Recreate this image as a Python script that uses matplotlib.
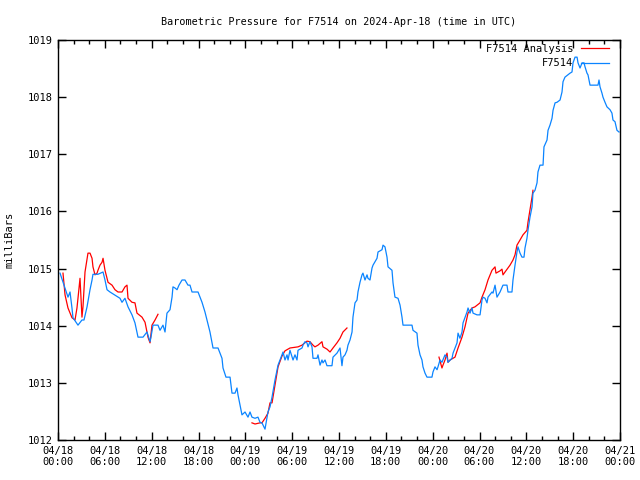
import datetime as dt

import numpy as np
import matplotlib
matplotlib.use("Agg")
import matplotlib.pyplot as plt
from matplotlib.ticker import MultipleLocator, FormatStrFormatter

# station observations: hours after 2024-04-18 00:00 UTC, pressure (mb)
obs_hours = [
    0.26, 0.90, 1.28, 1.54, 1.79, 1.92, 2.56, 3.07, 3.33, 3.72, 4.10, 4.36, 4.48, 5.12,
    5.77, 6.02, 6.28, 6.66, 7.94, 8.20, 8.58, 8.97, 9.48, 9.86, 10.25, 10.89, 11.40,
    11.79, 11.91, 12.17, 12.81, 13.07, 13.45, 13.71, 13.96, 14.35, 14.61, 14.73, 14.99,
    15.25, 15.50, 15.89, 16.27, 16.65, 16.91, 17.17, 17.94, 18.45, 18.83, 19.09, 19.47,
    19.86, 20.50, 21.01, 21.14, 21.52, 22.04, 22.29, 22.68, 22.93, 23.06, 23.32, 23.57,
    23.96, 24.34, 24.60, 24.85, 25.24, 25.62, 25.88, 26.13, 26.52, 26.78, 26.90, 27.16,
    27.42, 27.80, 28.19, 28.70, 28.83, 29.08, 29.34, 29.47, 29.72, 30.11, 30.36, 30.62,
    30.75, 31.26, 31.39, 31.64, 31.90, 32.03, 32.28, 32.54, 32.67, 33.18, 33.31, 33.57,
    33.82, 33.95, 34.21, 34.46, 35.10, 35.23, 35.74, 36.13, 36.38, 36.51, 36.77, 37.02,
    37.15, 37.41, 37.67, 37.79, 38.05, 38.31, 38.43, 38.69, 38.95, 39.07, 39.33, 39.59,
    39.71, 39.97, 40.23, 40.36, 40.61, 40.87, 41.00, 41.51, 41.64, 41.89, 42.15, 42.28,
    42.79, 42.92, 43.17, 43.56, 43.82, 44.07, 44.20, 45.35, 45.48, 45.99, 46.12, 46.38,
    46.63, 46.76, 47.02, 47.27, 47.91, 48.04, 48.30, 48.56, 48.68, 48.94, 49.19, 49.58,
    49.84, 49.96, 50.48, 50.61, 51.12, 51.25, 51.50, 51.76, 51.89, 52.40, 52.53, 52.78,
    53.04, 53.17, 53.68, 54.07, 54.32, 54.45, 54.71, 54.96, 55.09, 55.60, 55.73, 55.99,
    56.24, 56.63, 57.01, 57.52, 57.65, 58.16, 58.29, 58.55, 58.80, 58.93, 59.19, 59.44,
    59.70, 59.83, 60.08, 60.21, 60.47, 60.73, 60.85, 61.11, 61.37, 61.49, 61.75, 62.14,
    62.26, 62.65, 62.78, 63.03, 63.29, 63.42, 63.68, 63.93, 64.32, 64.57, 64.70, 64.95,
    65.60, 65.85, 65.98, 66.24, 66.50, 66.62, 66.88, 67.14, 67.39, 67.52, 67.77, 67.90,
    68.16, 69.18, 69.31, 69.44, 69.69, 69.82, 70.08, 70.33, 70.72, 70.97, 71.10, 71.36,
    71.61, 71.87,
]
obs_mb = [
    1014.92, 1014.66, 1014.50, 1014.59, 1014.31, 1014.14, 1014.01, 1014.10, 1014.10,
    1014.33, 1014.63, 1014.80, 1014.90, 1014.90, 1014.94, 1014.80, 1014.63, 1014.59,
    1014.48, 1014.41, 1014.48, 1014.33, 1014.19, 1014.05, 1013.80, 1013.80, 1013.89,
    1013.72, 1013.80, 1014.01, 1014.01, 1013.92, 1014.01, 1013.89, 1014.22, 1014.28,
    1014.50, 1014.68, 1014.66, 1014.63, 1014.71, 1014.80, 1014.80, 1014.71, 1014.71,
    1014.59, 1014.59, 1014.41, 1014.24, 1014.10, 1013.89, 1013.61, 1013.61, 1013.43,
    1013.26, 1013.10, 1013.10, 1012.82, 1012.82, 1012.91, 1012.79, 1012.61, 1012.44,
    1012.49, 1012.40, 1012.49, 1012.40, 1012.38, 1012.40, 1012.31, 1012.30, 1012.19,
    1012.40, 1012.49, 1012.58, 1012.75, 1013.05, 1013.31, 1013.49, 1013.54, 1013.40,
    1013.49, 1013.40, 1013.57, 1013.40, 1013.49, 1013.40, 1013.57, 1013.61, 1013.66,
    1013.72, 1013.70, 1013.63, 1013.72, 1013.63, 1013.43, 1013.43, 1013.49, 1013.31,
    1013.40, 1013.35, 1013.40, 1013.30, 1013.30, 1013.45, 1013.52, 1013.61, 1013.30,
    1013.45, 1013.49, 1013.57, 1013.66, 1013.75, 1013.89, 1014.15, 1014.40, 1014.45,
    1014.59, 1014.76, 1014.89, 1014.92, 1014.80, 1014.89, 1014.83, 1014.80, 1015.01,
    1015.06, 1015.12, 1015.18, 1015.29, 1015.33, 1015.41, 1015.38, 1015.20, 1015.03,
    1014.97, 1014.75, 1014.50, 1014.48, 1014.36, 1014.15, 1014.01, 1014.01, 1013.92,
    1013.87, 1013.66, 1013.49, 1013.40, 1013.28, 1013.17, 1013.10, 1013.10, 1013.19,
    1013.28, 1013.23, 1013.28, 1013.40, 1013.36, 1013.49, 1013.45, 1013.36, 1013.43,
    1013.52, 1013.70, 1013.87, 1013.78, 1013.89, 1014.05, 1014.24, 1014.31, 1014.22,
    1014.31, 1014.22, 1014.19, 1014.19, 1014.45, 1014.50, 1014.48, 1014.40, 1014.50,
    1014.59, 1014.57, 1014.71, 1014.50, 1014.59, 1014.71, 1014.71, 1014.59, 1014.59,
    1014.80, 1015.06, 1015.29, 1015.38, 1015.27, 1015.20, 1015.20, 1015.36, 1015.53,
    1015.67, 1015.90, 1016.08, 1016.32, 1016.37, 1016.50, 1016.69, 1016.81, 1016.81,
    1017.13, 1017.25, 1017.42, 1017.51, 1017.63, 1017.77, 1017.90, 1017.91, 1017.95,
    1018.09, 1018.27, 1018.35, 1018.42, 1018.44, 1018.60, 1018.70, 1018.70, 1018.60,
    1018.51, 1018.60, 1018.60, 1018.53, 1018.42, 1018.39, 1018.21, 1018.21, 1018.30,
    1018.18, 1018.07, 1018.00, 1017.91, 1017.83, 1017.78, 1017.72, 1017.60, 1017.57,
    1017.42, 1017.39,
]

# analysis, three separate stretches
ana1_hours = [0.64, 0.90, 1.28, 1.79, 2.18, 2.43, 2.56, 2.82, 3.07, 3.20, 3.46, 3.84,
              4.10, 4.36, 4.48, 4.74, 5.00, 5.12, 5.38, 5.64, 5.77, 6.02, 6.28, 6.41,
              6.92, 7.30, 7.69, 8.20, 8.58, 8.84, 8.97, 9.48, 9.86, 10.12, 10.76, 11.15,
              11.53, 11.79, 12.04, 12.43, 12.81]
ana1_mb = [1014.92, 1014.54, 1014.31, 1014.14, 1014.10, 1014.31, 1014.48, 1014.83,
           1014.15, 1014.33, 1014.94, 1015.27, 1015.27, 1015.18, 1015.03, 1014.89,
           1014.92, 1014.97, 1015.06, 1015.11, 1015.18, 1014.97, 1014.83, 1014.76,
           1014.71, 1014.63, 1014.59, 1014.59, 1014.68, 1014.71, 1014.48, 1014.41,
           1014.40, 1014.22, 1014.15, 1014.06, 1013.80, 1013.70, 1014.01, 1014.10,
           1014.20]

ana2_hours = [24.85, 25.24, 25.88, 26.13, 26.52, 26.90, 27.16, 27.42, 27.80, 28.19,
              28.70, 29.08, 29.72, 30.75, 31.26, 31.90, 32.28, 32.67, 32.92, 33.31,
              33.82, 33.95, 34.46, 34.85, 35.23, 35.74, 36.13, 36.51, 37.02]
ana2_mb = [1012.30, 1012.28, 1012.30, 1012.30, 1012.38, 1012.47, 1012.65, 1012.65,
           1012.96, 1013.28, 1013.47, 1013.56, 1013.61, 1013.63, 1013.66, 1013.73,
           1013.72, 1013.66, 1013.63, 1013.66, 1013.72, 1013.63, 1013.59, 1013.54,
           1013.61, 1013.70, 1013.78, 1013.89, 1013.96]

ana3_hours = [48.81, 49.19, 49.32, 49.58, 49.84, 49.96, 50.22, 50.86, 51.25, 51.76,
              52.14, 52.53, 53.04, 53.42, 54.07, 54.32, 54.71, 55.09, 55.60, 55.99,
              56.11, 56.63, 56.88, 57.01, 57.27, 57.91, 58.29, 58.55, 58.80, 59.19,
              59.57, 60.08, 60.21, 60.47, 60.73, 60.85]
ana3_mb = [1013.45, 1013.26, 1013.31, 1013.40, 1013.52, 1013.36, 1013.40, 1013.45,
           1013.61, 1013.80, 1013.98, 1014.22, 1014.31, 1014.33, 1014.40, 1014.50,
           1014.63, 1014.80, 1014.97, 1015.03, 1014.92, 1014.96, 1014.99, 1014.89,
           1014.94, 1015.06, 1015.15, 1015.24, 1015.41, 1015.50, 1015.59, 1015.67,
           1015.81, 1016.03, 1016.25, 1016.37]

start = dt.datetime(2024, 4, 18, 0, 0)
tick_hours = list(range(0, 73, 6))
tick_labels = [(start + dt.timedelta(hours=h)).strftime("%m/%d\n%H:%M") for h in tick_hours]

RED = "#ff0000"
BLUE = "#0a84ff"

plt.rcParams["font.family"] = ["DejaVu Sans Mono"]
plt.rcParams["font.size"] = 7.5

fig = plt.figure(figsize=(6.4, 4.8), dpi=100)
ax = fig.add_axes([58 / 640, 40 / 480, 562 / 640, 400 / 480])

ax.plot(ana1_hours, ana1_mb, color=RED, lw=0.9, label="F7514 Analysis")
ax.plot(ana2_hours, ana2_mb, color=RED, lw=0.9)
ax.plot(ana3_hours, ana3_mb, color=RED, lw=0.9)
ax.plot(obs_hours, obs_mb, color=BLUE, lw=0.9, label="F7514")

ax.set_xlim(0, 72)
ax.set_ylim(1012, 1019)
ax.set_xticks(tick_hours)
ax.set_xticklabels(tick_labels)
ax.xaxis.set_minor_locator(MultipleLocator(2))
ax.yaxis.set_major_locator(MultipleLocator(1))
ax.yaxis.set_major_formatter(FormatStrFormatter("%d"))
ax.tick_params(which="both", direction="in", top=True, right=True, width=1, pad=4)
ax.tick_params(which="major", length=6)
ax.tick_params(which="minor", length=3)
for s in ax.spines.values():
    s.set_linewidth(1)

ax.set_ylabel("milliBars", labelpad=9)
ax.set_title("Barometric Pressure for F7514 on 2024-Apr-18 (time in UTC)",
             fontsize=7.3, pad=11)

ax.legend(loc="upper right", bbox_to_anchor=(1 - 11 / 562, 1 - 4 / 400),
          frameon=False, markerfirst=False, handlelength=2.7, handletextpad=0.75,
          labelspacing=0.4, borderpad=0, borderaxespad=0)

fig.savefig("out.png", dpi=100)
